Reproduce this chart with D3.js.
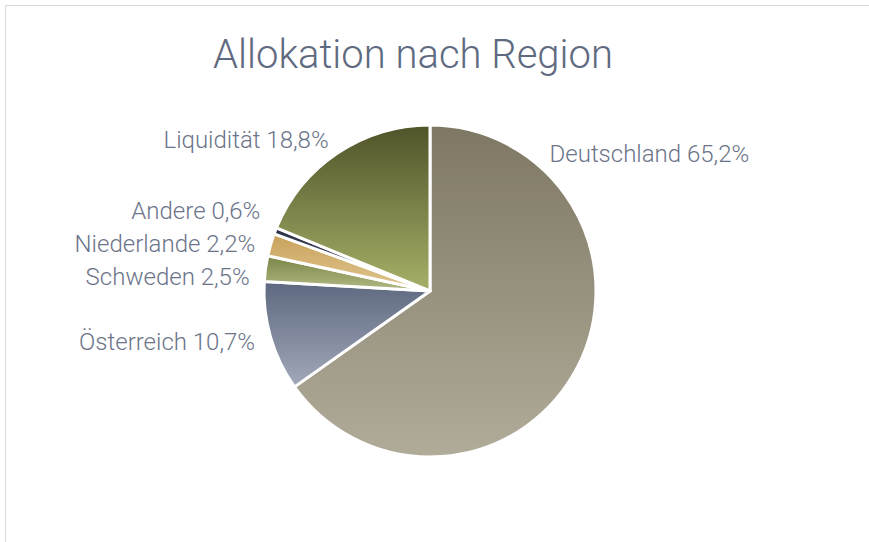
<!DOCTYPE html>
<html>
<head>
<meta charset="utf-8">
<script src="https://cdn.jsdelivr.net/npm/d3@7"></script>
<style>
    body { margin: 0; background: #fff; }
    svg { display: block; }
    text { font-family: Roboto, "Open Sans", sans-serif; font-weight: 300; }
</style>
</head>
<body>
<div id="chart"></div>
<script>

// data
var regions = ["Deutschland", "Österreich", "Schweden", "Niederlande", "Andere", "Liquidität"];
var shares = [65.2, 10.7, 2.5, 2.2, 0.6, 18.8];
var labelTexts = ["Deutschland 65,2%", "Österreich 10,7%", "Schweden 2,5%",
    "Niederlande 2,2%", "Andere 0,6%", "Liquidität 18,8%"];
// gradient colours per slice (top, bottom)
var colorsTop = ["#7d7764", "#5e6880", "#7a8545", "#c9a25b", "#2c3347", "#4f5329"];
var colorsBottom = ["#b1ab99", "#a1a9b9", "#b3b985", "#e0c590", "#4a5268", "#a7b068"];

var width = 869, height = 542;
var cx = 430, cy = 291, radius = 166;
var labelRadius = 182;

var svg = d3.select("#chart").append("svg")
    .attr("width", width)
    .attr("height", height);

// chart frame (only top and left edges visible)
svg.append("rect")
    .attr("x", 5.5)
    .attr("y", 5.5)
    .attr("width", width + 20)
    .attr("height", height + 20)
    .attr("fill", "#fff")
    .attr("stroke", "#d9d9d9")
    .attr("stroke-width", 1);

svg.append("text")
    .attr("x", 413)
    .attr("y", 68)
    .attr("text-anchor", "middle")
    .attr("font-size", 40)
    .attr("fill", "#5f6a80")
    .text("Allokation nach Region");

var defs = svg.append("defs");
regions.forEach(function (r, i) {
    var g = defs.append("linearGradient")
        .attr("id", "grad" + i)
        .attr("x1", 0).attr("y1", 0)
        .attr("x2", 0).attr("y2", 1);
    g.append("stop").attr("offset", "0%").attr("stop-color", colorsTop[i]);
    g.append("stop").attr("offset", "100%").attr("stop-color", colorsBottom[i]);
});

var pie = d3.pie().sort(null).value(function (d) { return d; });
var arcs = pie(shares);

var arc = d3.arc().innerRadius(0).outerRadius(radius);

var group = svg.append("g")
    .attr("transform", "translate(" + cx + "," + cy + ")");

group.selectAll("path")
    .data(arcs)
    .enter()
    .append("path")
    .attr("d", arc)
    .attr("fill", function (d, i) { return "url(#grad" + i + ")"; })
    .attr("stroke", "#fff")
    .attr("stroke-width", 3)
    .attr("stroke-linejoin", "round");

// labels: mid-angle, big slice label placed top-right like Excel's best fit
var labels = arcs.map(function (d, i) {
    var a = (d.startAngle + d.endAngle) / 2;
    if (i === 0) a = d.startAngle + (d.endAngle - d.startAngle) * 0.175;
    return {
        text: labelTexts[i],
        angle: a,
        x: labelRadius * Math.sin(a),
        y: -labelRadius * Math.cos(a),
        left: Math.sin(a) < 0
    };
});

// push overlapping labels on the left side apart
var leftLabels = labels.filter(function (d) { return d.left; })
    .sort(function (a, b) { return a.y - b.y; });
var gap = 33;
for (var iter = 0; iter < 50; iter++) {
    for (var j = 1; j < leftLabels.length; j++) {
        var diff = leftLabels[j].y - leftLabels[j - 1].y;
        if (diff < gap) {
            var shift = (gap - diff) / 2;
            leftLabels[j].y += shift;
            leftLabels[j - 1].y -= shift;
        }
    }
}

group.selectAll("text.label")
    .data(labels)
    .enter()
    .append("text")
    .attr("class", "label")
    .attr("x", function (d) { return d.x; })
    .attr("y", function (d) { return d.y; })
    .attr("dy", "0.35em")
    .attr("text-anchor", function (d) { return d.left ? "end" : "start"; })
    .attr("font-size", 24)
    .attr("fill", "#6b7489")
    .text(function (d) { return d.text; });

</script>
</body>
</html>
